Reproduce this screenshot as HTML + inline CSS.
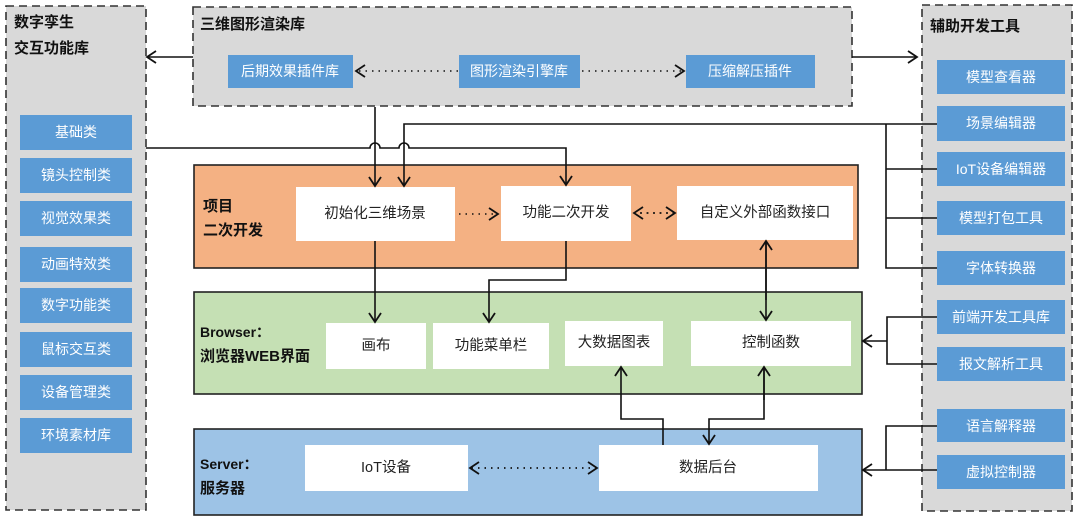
<!DOCTYPE html>
<html><head><meta charset="utf-8"><style>
html,body{margin:0;padding:0;background:#fff;}
svg{display:block;font-family:"Liberation Sans","Noto Sans CJK SC",sans-serif;}
.bt{fill:#fff;font-size:14px;text-anchor:middle;dominant-baseline:central;}
.wt{fill:#222;font-size:14.5px;text-anchor:middle;dominant-baseline:central;}
.hd{fill:#111;font-size:15px;font-weight:bold;}
.ln{stroke:#111;stroke-width:1.6;fill:none;}
.dt{stroke:#111;stroke-width:1.6;fill:none;stroke-dasharray:1.5 5;}
</style></head><body>
<svg width="1080" height="526" viewBox="0 0 1080 526">
<defs>
<marker id="a" markerWidth="12" markerHeight="14" refX="10" refY="7" orient="auto-start-reverse" markerUnits="userSpaceOnUse">
<path d="M1,1 L10,7 L1,13" fill="none" stroke="#111" stroke-width="1.8"/></marker>
</defs>
<!-- panels -->
<rect x="6" y="6" width="140" height="504" fill="#d9d9d9" stroke="#333" stroke-width="1.6" stroke-dasharray="8 5"/>
<rect x="193" y="7" width="659" height="99" fill="#d9d9d9" stroke="#333" stroke-width="1.6" stroke-dasharray="8 5"/>
<rect x="922" y="5" width="150" height="506" fill="#d9d9d9" stroke="#333" stroke-width="1.6" stroke-dasharray="8 5"/>
<rect x="194" y="165" width="664" height="103" fill="#f4b183" stroke="#222" stroke-width="1.6"/>
<rect x="194" y="292" width="668" height="102" fill="#c5e0b4" stroke="#222" stroke-width="1.6"/>
<rect x="194" y="429" width="668" height="86" fill="#9dc3e6" stroke="#222" stroke-width="1.6"/>

<text class="hd" x="14" y="27">数字孪生</text>
<text class="hd" x="14" y="53">交互功能库</text>
<text class="hd" x="200" y="29">三维图形渲染库</text>
<text class="hd" x="930" y="31">辅助开发工具</text>
<text class="hd" x="203" y="211">项目</text>
<text class="hd" x="203" y="235">二次开发</text>
<text class="hd" x="200" y="337" style="font-size:14px">Browser：</text>
<text class="hd" x="200" y="361">浏览器WEB界面</text>
<text class="hd" x="200" y="469" style="font-size:14px">Server：</text>
<text class="hd" x="200" y="493">服务器</text>

<!-- left blue -->
<g fill="#5b9bd5">
<rect x="20" y="115" width="112" height="35"/><rect x="20" y="158" width="112" height="35"/>
<rect x="20" y="201" width="112" height="35"/><rect x="20" y="247" width="112" height="35"/>
<rect x="20" y="288" width="112" height="35"/><rect x="20" y="332" width="112" height="35"/>
<rect x="20" y="375" width="112" height="35"/><rect x="20" y="418" width="112" height="35"/>
<rect x="228" y="55" width="125" height="33"/><rect x="459" y="55" width="121" height="33"/><rect x="686" y="55" width="129" height="33"/>
<rect x="937" y="60" width="128" height="34"/><rect x="937" y="106" width="128" height="35"/>
<rect x="937" y="152" width="128" height="34"/><rect x="937" y="201" width="128" height="34"/>
<rect x="937" y="251" width="128" height="34"/><rect x="937" y="300" width="128" height="34"/>
<rect x="937" y="347" width="128" height="34"/><rect x="937" y="409" width="128" height="33"/>
<rect x="937" y="455" width="128" height="34"/>
</g>
<g class="bt">
<text x="76" y="132">基础类</text><text x="76" y="175">镜头控制类</text><text x="76" y="218">视觉效果类</text>
<text x="76" y="264">动画特效类</text><text x="76" y="305">数字功能类</text><text x="76" y="349">鼠标交互类</text>
<text x="76" y="392">设备管理类</text><text x="76" y="435">环境素材库</text>
<text x="290" y="71">后期效果插件库</text><text x="519" y="71">图形渲染引擎库</text><text x="750" y="71">压缩解压插件</text>
<text x="1001" y="77">模型查看器</text><text x="1001" y="123">场景编辑器</text><text x="1001" y="169">IoT设备编辑器</text>
<text x="1001" y="218">模型打包工具</text><text x="1001" y="268">字体转换器</text><text x="1001" y="317">前端开发工具库</text>
<text x="1001" y="364">报文解析工具</text><text x="1001" y="426">语言解释器</text><text x="1001" y="472">虚拟控制器</text>
</g>
<!-- white boxes -->
<g fill="#fff">
<rect x="296" y="187" width="159" height="54"/><rect x="501" y="186" width="130" height="55"/><rect x="677" y="186" width="176" height="54"/>
<rect x="326" y="323" width="100" height="46"/><rect x="433" y="323" width="116" height="46"/><rect x="565" y="321" width="98" height="45"/><rect x="691" y="321" width="160" height="45"/>
<rect x="305" y="445" width="163" height="46"/><rect x="599" y="445" width="219" height="46"/>
</g>
<g class="wt">
<text x="375" y="214">初始化三维场景</text><text x="566" y="213">功能二次开发</text><text x="765" y="213">自定义外部函数接口</text>
<text x="376" y="346">画布</text><text x="491" y="346">功能菜单栏</text><text x="614" y="343">大数据图表</text><text x="771" y="343">控制函数</text>
<text x="386" y="468">IoT设备</text><text x="708" y="468">数据后台</text>
</g>
<!-- connectors -->
<path class="ln" d="M193,57 H147" marker-end="url(#a)"/>
<path class="ln" d="M852,57 H917" marker-end="url(#a)"/>
<path class="dt" d="M582,71 H684" marker-end="url(#a)"/>
<path class="dt" d="M458,71 H356" marker-end="url(#a)"/>
<path class="ln" d="M375,107 V186" marker-end="url(#a)"/>
<path class="ln" d="M937,124 H404 V186" marker-end="url(#a)"/>
<path class="ln" d="M146,148 H370 a5,5 0 0 1 10,0 H399 a5,5 0 0 1 10,0 H566 V185" marker-end="url(#a)"/>
<path class="ln" d="M886,124 V268 H937 M886,169 H937 M886,218 H937"/>
<path class="dt" d="M459,214 H498" marker-end="url(#a)"/>
<path class="dt" d="M640,213 H675" marker-end="url(#a)"/>
<path class="dt" d="M668,213 H634" marker-end="url(#a)"/>
<path class="ln" d="M375,241 V322" marker-end="url(#a)"/>
<path class="ln" d="M566,241 V280 H489 V322" marker-end="url(#a)"/>
<path class="ln" d="M766,243 V320" marker-end="url(#a)"/>
<path class="ln" d="M766,300 V241" marker-end="url(#a)"/>
<path class="ln" d="M663,445 V419 H621 V367" marker-end="url(#a)"/>
<path class="ln" d="M764,367 V419 H709 V444" marker-end="url(#a)"/>
<path class="ln" d="M764,400 V367" marker-end="url(#a)"/>
<path class="ln" d="M937,317 H887 V364 H937 M887,341 H863" marker-end="url(#a)"/>
<path class="ln" d="M937,426 H886 V470 H937 M886,470 H863" marker-end="url(#a)"/>
<path class="dt" d="M478,468 H597" marker-end="url(#a)"/>
<path class="dt" d="M590,468 H470" marker-end="url(#a)"/>
</svg>
</body></html>
